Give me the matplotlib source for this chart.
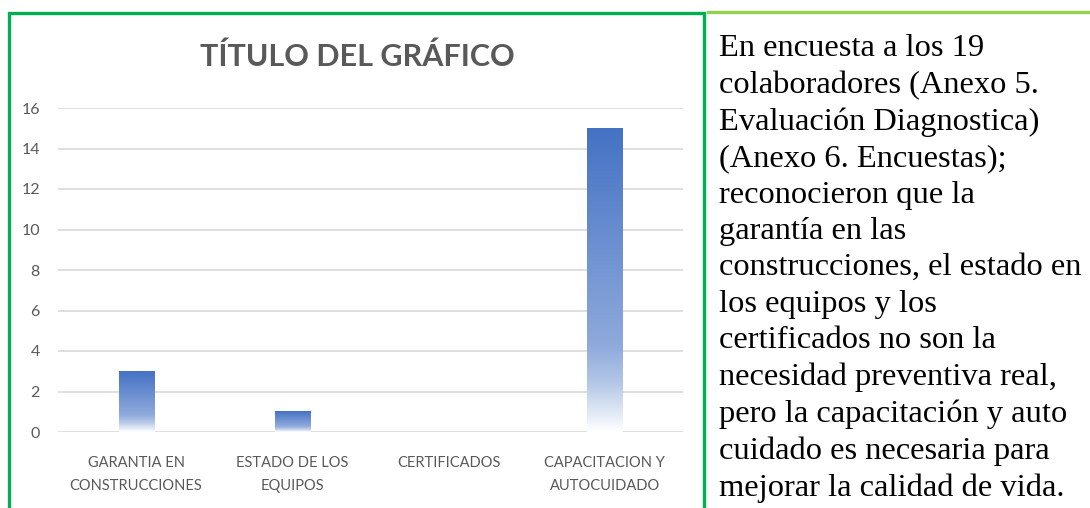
import numpy as np
import matplotlib
matplotlib.use("Agg")
import matplotlib.pyplot as plt
from matplotlib.patches import Rectangle
from matplotlib.lines import Line2D
from matplotlib.colors import LinearSegmentedColormap

categories = ["GARANTIA EN\nCONSTRUCCIONES", "ESTADO DE LOS\nEQUIPOS", "CERTIFICADOS", "CAPACITACION Y\nAUTOCUIDADO"]
values = [3, 1, 0, 15]
yticks = [0, 2, 4, 6, 8, 10, 12, 14, 16]
title = "TÍTULO DEL GRÁFICO"
side_text = ("En encuesta a los 19\ncolaboradores (Anexo 5.\nEvaluación Diagnostica)\n(Anexo 6. Encuestas);\n"
             "reconocieron que la\ngarantía en las\nconstrucciones, el estado en\nlos equipos y los\n"
             "certificados no son la\nnecesidad preventiva real,\npero la capacitación y auto\n"
             "cuidado es necesaria para\nmejorar la calidad de vida.")

W, H = 1090, 508
fig = plt.figure(figsize=(W / 100, H / 100), dpi=100)
fig.patch.set_facecolor("white")

ax = fig.add_axes([58 / W, 1 - 432 / H, (683 - 58) / W, (432 - 108) / H])
ax.set_xlim(-0.5, len(categories) - 0.5)
ax.set_ylim(0, 16)
for s in ax.spines.values():
    s.set_visible(False)
ax.set_yticks(yticks)
ax.set_yticklabels([str(t) for t in yticks], fontsize=11.5, color="#595959", family="Lato")
ax.yaxis.grid(True, color="#D9D9D9", linewidth=1.2)
ax.set_axisbelow(True)
ax.tick_params(axis="both", length=0)
ax.tick_params(axis="y", pad=13)
ax.set_xticks(range(len(categories)))
ax.set_xticklabels(categories, fontsize=10.5, color="#595959", family="Lato", linespacing=1.85)
ax.tick_params(axis="x", pad=17)

cmap = LinearSegmentedColormap.from_list("g", [(0.0, "#FFFFFF"), (0.16, "#B4C7E7"), (0.28, "#8FAADC"), (1.0, "#4472C4")])
bars = ax.bar(range(len(categories)), values, width=0.225, color="none", edgecolor="none")
grad = np.linspace(0, 1, 256).reshape(-1, 1)
for b in bars:
    h = b.get_height()
    if h <= 0:
        continue
    x0 = b.get_x()
    ax.imshow(grad, extent=[x0, x0 + b.get_width(), 0, h], origin="lower", aspect="auto",
              cmap=cmap, zorder=3, interpolation="bilinear")
ax.set_xlim(-0.5, len(categories) - 0.5)
ax.set_ylim(0, 16)

fig.text(357 / W, 1 - 57 / H, title, ha="center", va="center", fontsize=22, fontweight="bold",
         color="#595959", family="Lato")

# frame
fig.add_artist(Rectangle((9 / W, -0.05), (704 - 9) / W, 1.05 - 13 / H, transform=fig.transFigure,
                         fill=False, edgecolor="#00B050", linewidth=2.4))
fig.add_artist(Line2D([708 / W, 1.0], [1 - 12 / H, 1 - 12 / H], transform=fig.transFigure,
                      color="#92D050", linewidth=2.4))

fig.text(719 / W, 1 - 34 / H, side_text, ha="left", va="top", fontsize=23.4, family="Liberation Serif",
         color="black", linespacing=1.335)

fig.savefig("out.png", dpi=100, facecolor="white")
